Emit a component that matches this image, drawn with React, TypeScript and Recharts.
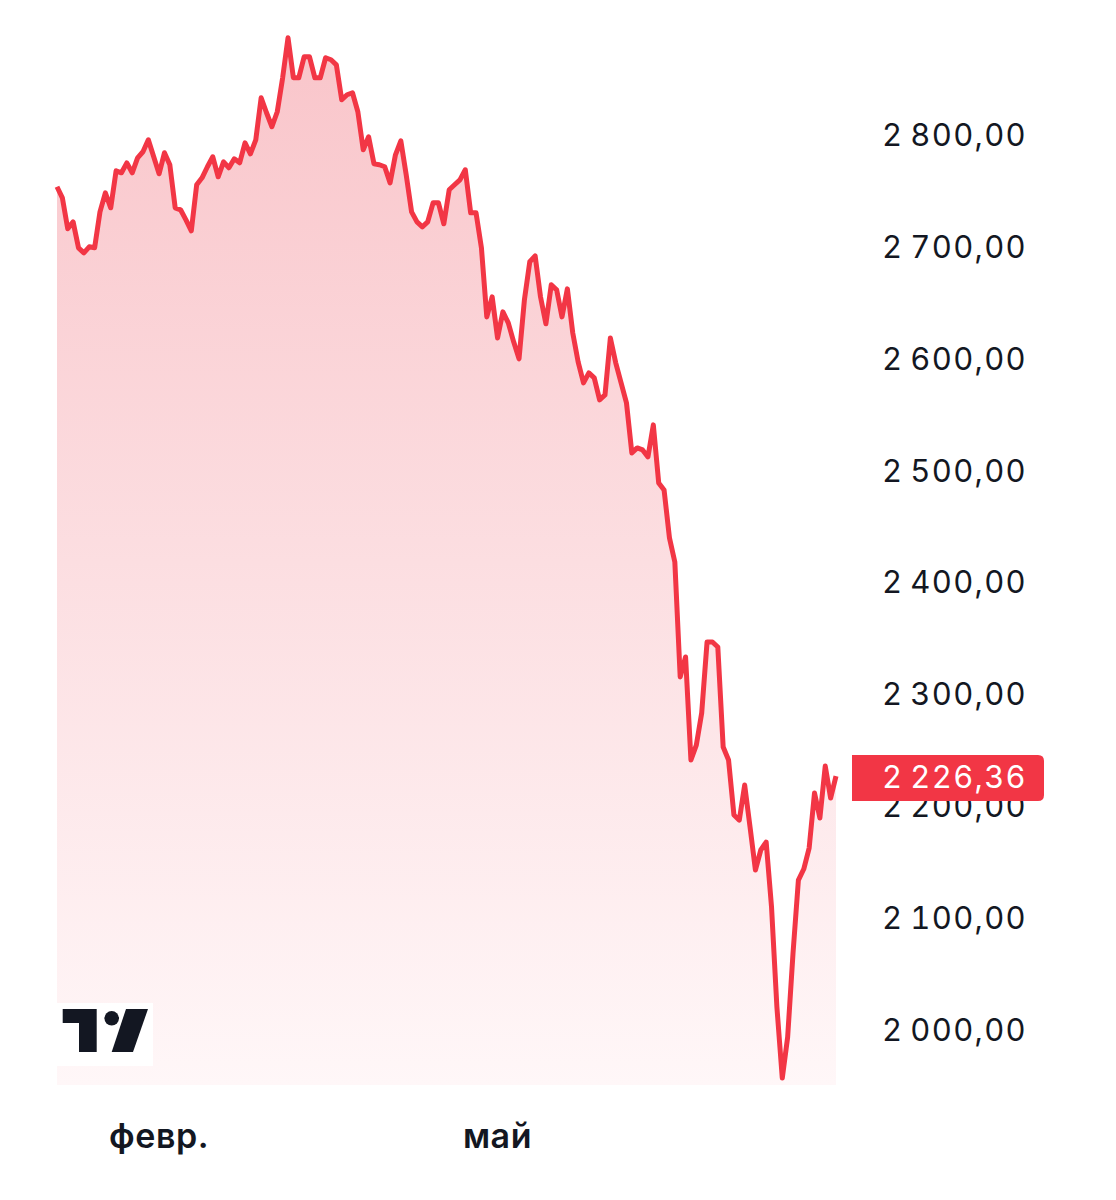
import React from 'react';
import { AreaChart, Area, XAxis, YAxis } from 'recharts';

// daily closes
const prices = [
  2753.5, 2743.6, 2715.9, 2722.1, 2698.9, 2694.4, 2699.8, 2698.9, 2731.1, 2748.1,
  2734.7, 2767.8, 2766.0, 2774.9, 2766.0, 2779.4, 2784.8, 2795.5, 2780.3, 2765.1,
  2783.9, 2773.2, 2734.7, 2732.9, 2723.9, 2714.1, 2755.3, 2761.5, 2771.4, 2780.3,
  2762.4, 2775.8, 2770.5, 2778.5, 2774.9, 2792.8, 2783.0, 2795.5, 2833.1, 2819.7,
  2807.2, 2820.6, 2851.0, 2886.8, 2851.0, 2851.0, 2869.8, 2869.8, 2851.0, 2851.0,
  2868.9, 2867.1, 2862.6, 2831.3, 2835.8, 2837.6, 2820.6, 2786.6, 2798.2, 2774.0,
  2773.2, 2771.4, 2757.0, 2782.1, 2794.6, 2764.2, 2731.1, 2722.1, 2717.7, 2722.1,
  2739.1, 2739.1, 2720.4, 2750.8, 2755.3, 2759.7, 2768.7, 2730.2, 2730.2, 2698.9,
  2637.1, 2655.0, 2618.3, 2641.6, 2631.8, 2614.8, 2599.6, 2652.3, 2686.4, 2691.7,
  2655.0, 2630.9, 2665.8, 2661.3, 2637.1, 2662.2, 2622.8, 2596.9, 2578.1, 2587.0,
  2582.6, 2562.9, 2567.3, 2618.3, 2596.0, 2578.1, 2560.2, 2515.4, 2519.9, 2518.1,
  2511.9, 2540.5, 2488.6, 2482.3, 2439.4, 2417.9, 2315.0, 2332.9, 2240.7, 2254.1,
  2282.8, 2346.3, 2346.3, 2341.8, 2252.3, 2240.7, 2191.5, 2187.0, 2218.3, 2180.8,
  2142.3, 2160.2, 2167.3, 2109.2, 2019.7, 1956.2, 1992.8, 2068.0, 2133.3, 2143.2,
  2162.0, 2211.2, 2188.8, 2235.3, 2206.7, 2226.36,
];

const monthTicks = [19, 82];
const monthLabels = ['февр.', 'май'];
const priceTicks = [2000, 2100, 2200, 2300, 2400, 2500, 2600, 2700, 2800];

const lastPrice = prices[prices.length - 1];
const data = prices.map((p, i) => ({ i, p }));

const RED = '#f23645';
const INK = '#131722';
const FONT = 'Inter, "Noto Sans", sans-serif';

const fmt = (v: number) => {
  const [int, dec] = v.toFixed(2).split('.');
  return int.replace(/\B(?=(\d{3})+(?!\d))/g, '\u2009') + ',' + dec;
};

const numStyle = { fontVariantNumeric: 'tabular-nums', fontFeatureSettings: '"tnum"' } as const;

const PriceTick = (props: any) => {
  const { x, y, payload } = props;
  const label = (
    <text
      x={x + 191}
      y={y}
      textAnchor="end"
      dominantBaseline="central"
      fill={payload.value === lastPrice ? '#fff' : INK}
      fontSize={31}
      fontFamily={FONT}
      letterSpacing={1.3}
      style={numStyle}
    >
      {fmt(payload.value)}
    </text>
  );
  if (payload.value !== lastPrice) return label;
  const left = x + 16;
  const w = 192;
  const h = 46;
  const r = 6;
  const top = y - h / 2 + 2;
  const d = `M${left},${top} H${left + w - r} Q${left + w},${top} ${left + w},${top + r} V${top + h - r} Q${left + w},${top + h} ${left + w - r},${top + h} H${left} Z`;
  return (
    <g>
      <path d={d} fill={RED} />
      {label}
    </g>
  );
};

const MonthTick = (props: any) => {
  const { x, y, payload } = props;
  const idx = monthTicks.indexOf(payload.value);
  return (
    <text x={x} y={y + 50} textAnchor="middle" dominantBaseline="central" fill={INK} fontSize={34} fontWeight={600} letterSpacing={0.6} fontFamily={FONT}>
      {monthLabels[idx]}
    </text>
  );
};

export default function App() {
  return (
    <div style={{ position: 'relative', width: 1100, height: 1184, background: '#fff' }}>
      <AreaChart width={1100} height={1184} data={data} margin={{ top: 15, right: 0, bottom: 0, left: 49 }}>
        <defs>
          <linearGradient id="fillRed" x1="0" y1="0" x2="0" y2="1">
            <stop offset="0%" stopColor="#f9c5ca" />
            <stop offset="100%" stopColor="#fff7f8" />
          </linearGradient>
        </defs>
        <XAxis
          dataKey="i"
          type="number"
          domain={[0, prices.length - 1]}
          ticks={monthTicks}
          axisLine={false}
          tickLine={false}
          tickSize={0}
          tickMargin={0}
          height={107}
          interval={0}
          tick={<MonthTick />}
        />
        <YAxis
          orientation="right"
          domain={[1950, 2900]}
          ticks={[...priceTicks, lastPrice]}
          interval={0}
          axisLine={false}
          tickLine={false}
          tickSize={0}
          tickMargin={0}
          width={272}
          tick={<PriceTick />}
        />
        <Area
          type="linear"
          dataKey="p"
          stroke={RED}
          strokeWidth={5}
          strokeLinejoin="round"
          fill="url(#fillRed)"
          fillOpacity={1}
          baseValue={1950}
          isAnimationActive={false}
          dot={false}
          activeDot={false}
        />
      </AreaChart>
      <svg width={110} height={70} style={{ position: 'absolute', left: 49, top: 995 }}>
        <rect x={0} y={0} width={96} height={63} fill="#fff" />
        <g transform="translate(-57,-1003)" fill={INK}>
          <path d="M62.7,1009 H96.7 V1052 H79 V1023 H62.7 Z" />
          <circle cx={111.7} cy={1018.3} r={7.3} />
          <path d="M126,1009 H148 L133,1052 H111.7 Z" />
        </g>
      </svg>
    </div>
  );
}
